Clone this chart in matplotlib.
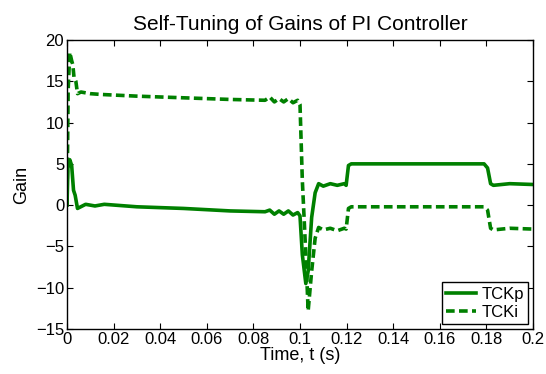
import matplotlib
matplotlib.use("Agg")
import matplotlib.pyplot as plt

plt.rcParams['font.family'] = ['Liberation Sans', 'DejaVu Sans']

# TCKp (solid) key points
t_p = [0.0, 0.0004, 0.0012, 0.002, 0.0028, 0.0035, 0.0045, 0.008, 0.012, 0.016, 0.03, 0.05, 0.07,
       0.085, 0.087, 0.089, 0.091, 0.093, 0.095, 0.097, 0.099, 0.1, 0.101, 0.1025, 0.1035, 0.105,
       0.1065, 0.108, 0.11, 0.113, 0.116, 0.119, 0.1198, 0.1208, 0.122, 0.14, 0.16, 0.179,
       0.1805, 0.1818, 0.183, 0.19, 0.2]
v_p = [0.0, 4.5, 5.5, 4.8, 1.8, 1.2, -0.4, 0.1, -0.1, 0.1, -0.2, -0.4, -0.7,
       -0.8, -0.6, -1.1, -0.7, -1.1, -0.7, -1.2, -0.9, -1.3, -6.0, -9.5, -8.0, -1.5,
       1.5, 2.6, 2.3, 2.6, 2.4, 2.6, 2.4, 4.8, 5.0, 5.0, 5.0, 5.0,
       4.5, 2.6, 2.4, 2.6, 2.5]

# TCKi (dashed) key points
t_i = [0.0, 0.0005, 0.0012, 0.002, 0.0025, 0.003, 0.0038, 0.0045, 0.006, 0.01, 0.015, 0.03,
       0.05, 0.07, 0.085, 0.087, 0.089, 0.091, 0.093, 0.095, 0.097, 0.099, 0.1, 0.101, 0.1025,
       0.1035, 0.105, 0.1065, 0.108, 0.11, 0.113, 0.116, 0.119, 0.1198, 0.1208, 0.122,
       0.14, 0.16, 0.179, 0.1805, 0.1818, 0.183, 0.19, 0.2]
v_i = [0.0, 14.0, 18.5, 17.5, 17.0, 15.5, 15.0, 13.5, 13.7, 13.5, 13.4, 13.2,
       13.0, 12.8, 12.7, 13.1, 12.5, 12.9, 12.5, 12.9, 12.4, 12.7, 12.2, 3.0, -6.0,
       -12.8, -8.0, -4.0, -2.7, -3.0, -2.8, -3.1, -2.8, -2.9, -0.4, -0.2, -0.2, -0.2, -0.2,
       -0.6, -2.8, -3.0, -2.8, -2.9]

x_ticks = [0, 0.02, 0.04, 0.06, 0.08, 0.1, 0.12, 0.14, 0.16, 0.18, 0.2]
x_labels = ['0', '0.02', '0.04', '0.06', '0.08', '0.1', '0.12', '0.14', '0.16', '0.18', '0.2']
y_ticks = [-15, -10, -5, 0, 5, 10, 15, 20]

green = '#008000'

fig = plt.figure(figsize=(5.46, 3.74), dpi=100)
ax = fig.add_axes([67/546, 1 - 329/374, (533-67)/546, (329-40)/374])

ax.plot(t_p, v_p, color=green, lw=2.6, label='TCKp')
ax.plot(t_i, v_i, color=green, lw=2.6, ls=(0, (2.4, 1.2)), label='TCKi')

ax.set_xlim(0, 0.2)
ax.set_ylim(-15, 20)
ax.set_xticks(x_ticks)
ax.set_xticklabels(x_labels)
ax.set_yticks(y_ticks)
ax.tick_params(direction='in', top=True, right=True, labelsize=12, length=4, width=0.8, pad=2)
for s in ax.spines.values():
    s.set_linewidth(1.0)

ax.set_xlabel('Time, t (s)', fontsize=13, labelpad=0)
ax.set_ylabel('Gain', fontsize=13, labelpad=4)
ax.set_title('Self-Tuning of Gains of PI Controller', fontsize=15, pad=7)

leg = ax.legend(loc='lower right', fontsize=12, fancybox=False, framealpha=1,
                edgecolor='black', handlelength=1.8, borderpad=0.25, labelspacing=0.2,
                handletextpad=0.3, borderaxespad=0.3)
leg.get_frame().set_linewidth(1.0)

fig.savefig('out.png', dpi=100)
